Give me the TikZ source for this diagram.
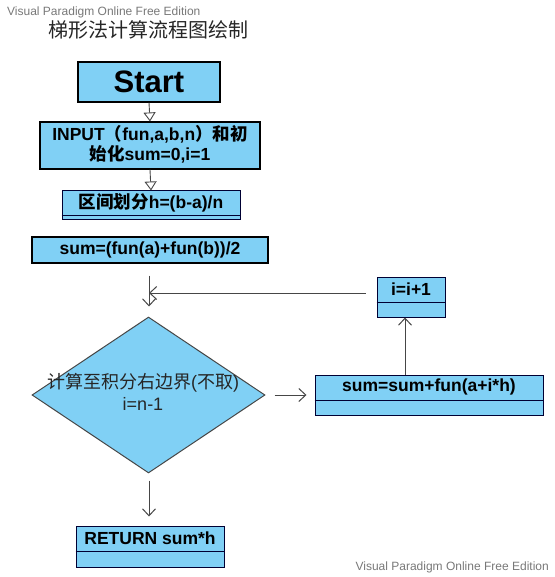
\documentclass[tikz,border=0pt]{standalone}
\usepackage{fontspec}
\setmainfont{Liberation Sans}
\newfontfamily\cjk{Noto Sans CJK SC}
\usetikzlibrary{arrows.meta,shapes.geometric}
\definecolor{vpblue}{RGB}{128,208,245}
\definecolor{lnclr}{RGB}{70,70,70}
\definecolor{wmclr}{RGB}{120,120,120}
\tikzset{
  box/.style={draw=black, line width=1.1pt, fill=vpblue, inner sep=0pt, text=black},
  ubox/.style={draw=black!80!blue, line width=1pt, fill=vpblue, inner sep=0pt},
  btxt/.style={font=\bfseries\fontsize{17.5}{20}\selectfont, inner sep=0pt, text=black, align=center},
  divider/.style={draw=black!80!blue, line width=1pt},
  tri/.style={draw=lnclr, line width=0.9pt, -{Triangle[open,length=9pt,width=12pt,fill=white]}},
  vee/.style={draw=lnclr, line width=1pt, -{Straight Barb[length=7pt,width=13pt]}},
  wm/.style={font=\fontsize{12}{14}\selectfont, text=wmclr, inner sep=0pt}
}
\begin{document}
\begin{tikzpicture}[x=1pt,y=-1pt]
\useasboundingbox (0,0) rectangle (554,577);
% watermarks and title
\node[wm, anchor=west] (wmtop) at (7,12) {Visual Paradigm Online Free Edition};
\node[wm, anchor=east] (wmbot) at (549,567) {Visual Paradigm Online Free Edition};
\node[inner sep=0pt, text=black!85, anchor=west] (title) at (48,30) {\cjk\fontsize{20}{22}\selectfont 梯形法计算流程图绘制};
% start
\node[box, minimum width=142pt, minimum height=40pt] (start) at (149,82) {\bfseries\fontsize{31}{32}\selectfont Start};
% input
\node[box, minimum width=220pt, minimum height=47pt] (input) at (150,145.5) {};
\node[btxt] (inputtxt) at (150,144.5) {INPUT{\cjk （}fun,a,b,n{\cjk ）和初}\\[0pt]{\cjk 始化}sum=0,i=1};
% interval
\node[ubox, minimum width=178pt, minimum height=28pt] (qj) at (151,205) {};
\draw[divider] (qj.west |- 0,215) -- (qj.east |- 0,215);
\node[btxt] (qjtxt) at (151,203) {{\cjk 区间划分}h=(b-a)/n};
% sum0
\node[box, minimum width=236pt, minimum height=26pt] (sum0) at (150,250) {};
\node[btxt] (sum0txt) at (150,249.5) {sum=(fun(a)+fun(b))/2};
% diamond
\node[diamond, draw=lnclr, line width=1pt, fill=vpblue, minimum width=233pt, minimum height=156pt, inner sep=0pt] (cond) at (148.5,395) {};
\node[inner sep=0pt, align=center, text=black!85, font=\fontsize{18}{22}\selectfont] (condtxt) at (143,392) {{\cjk 计算至积分右边界}({\cjk 不取})\\i=n-1};
% sum i
\node[ubox, minimum width=228pt, minimum height=40pt] (sumi) at (429,395) {};
\draw[divider] (sumi.west |- 0,400) -- (sumi.east |- 0,400);
\node[btxt] (sumitxt) at (429,387) {sum=sum+fun(a+i*h)};
% i=i+1
\node[ubox, minimum width=68pt, minimum height=40pt] (inc) at (411,297) {};
\draw[divider] (inc.west |- 0,302.5) -- (inc.east |- 0,302.5);
\node[btxt] (inctxt) at (411,289) {i=i+1};
% return
\node[ubox, minimum width=148pt, minimum height=41pt] (ret) at (150,546.5) {};
\draw[divider] (ret.west |- 0,551) -- (ret.east |- 0,551);
\node[btxt] (rettxt) at (150,538) {RETURN sum*h};
% connectors
\draw[tri] (start.south) -- (input.north);
\draw[tri] (input.south) -- (qj.north);
\coordinate (merge) at (149,293);
\coordinate (upx) at (405,0);
\draw[vee, shorten <=12pt, shorten >=10pt] (sum0.south -| merge) -- (cond.north -| merge);
\draw[vee, shorten <=11pt] (inc.west |- merge) -- (merge);
\draw[vee, shorten <=9pt, shorten >=8pt] (cond.east) -- (sumi.west);
\draw[vee] (sumi.north -| upx) -- (inc.south -| upx);
\draw[vee, shorten <=7pt, shorten >=9pt] (cond.south -| merge) -- (ret.north -| merge);
\end{tikzpicture}
\end{document}
